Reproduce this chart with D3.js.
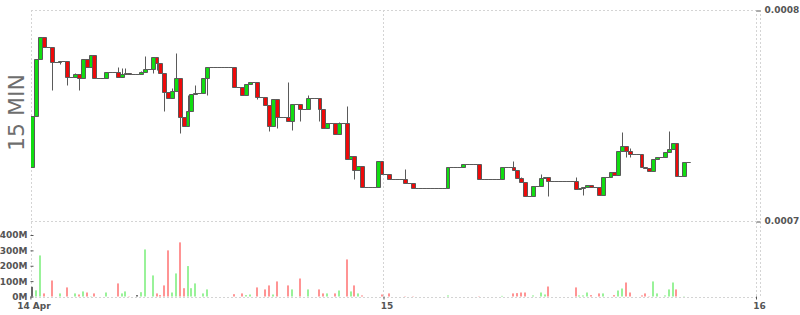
<!DOCTYPE html>
<html><head><meta charset="utf-8">
<script src="https://cdn.jsdelivr.net/npm/d3@7"></script>
<style>body{margin:0;background:#fff;} svg{display:block;}</style>
</head><body>
<svg id="c" width="800" height="315"></svg>
<script>
// ---------- data ----------
const startTime = "2024-04-14T01:15:00Z";   // first 15-min candle
const endTime   = "2024-04-16T00:00:00Z";
const opens = [
0.00072574,0.00074991,0.00077678,0.00078706,0.00078232,0.00078232,0.00077536,0.00077536,0.00077583,0.00077583,
0.00076810,0.00076810,0.00076953,0.00076763,0.00077678,0.00077284,0.00077853,0.00076763,0.00076763,0.00076763,
0.00077047,0.00077047,0.00077047,0.00076810,0.00076967,0.00077000,0.00076986,0.00076986,0.00076986,0.00077047,
0.00077190,0.00077190,0.00077758,0.00077474,0.00077000,0.00076100,0.00075815,0.00076175,0.00076763,0.00074915,
0.00074502,0.00075228,0.00076005,0.00076052,0.00076052,0.00076763,0.00077313,0.00077313,0.00077313,0.00077313,
0.00077313,0.00077313,0.00077313,0.00076365,0.00076365,0.00075972,0.00076479,0.00076573,0.00076573,0.00075863,
0.00075863,0.00075498,0.00074502,0.00075768,0.00074915,0.00074915,0.00074915,0.00074725,0.00075531,0.00075531,
0.00075294,0.00075294,0.00075815,0.00075815,0.00075815,0.00075294,0.00074393,0.00074630,0.00074630,0.00074109,
0.00074630,0.00074630,0.00072938,0.00073095,0.00072417,0.00072621,0.00071597,0.00071597,0.00071597,0.00071597,
0.00072829,0.00072213,0.00072213,0.00071976,0.00071976,0.00071976,0.00071976,0.00071787,0.00071787,0.00071550,
0.00071550,0.00071550,0.00071550,0.00071550,0.00071550,0.00071550,0.00071550,0.00071550,0.00072545,0.00072545,
0.00072545,0.00072545,0.00072687,0.00072687,0.00072687,0.00072687,0.00071976,0.00071976,0.00071976,0.00071976,
0.00071976,0.00071976,0.00072545,0.00072545,0.00072545,0.00072417,0.00072024,0.00071834,0.00071185,0.00071185,
0.00071659,0.00071659,0.00072024,0.00072100,0.00071910,0.00071910,0.00071910,0.00071910,0.00071910,0.00071910,
0.00071910,0.00071502,0.00071550,0.00071597,0.00071706,0.00071597,0.00071597,0.00071218,0.00072071,0.00072071,
0.00072308,0.00072180,0.00073318,0.00073540,0.00073318,0.00073175,0.00073175,0.00073175,0.00072545,0.00072498,
0.00072370,0.00072924,0.00073047,0.00073047,0.00073256,0.00073398,0.00073683,0.00072133,0.00072133,0.00072782
];
const highs = [
0.00074991,0.00077678,0.00078706,0.00078706,0.00078232,0.00078232,0.00077536,0.00077583,0.00077583,0.00077583,
0.00076810,0.00077029,0.00076953,0.00077678,0.00077678,0.00077853,0.00077853,0.00076763,0.00076763,0.00077047,
0.00077047,0.00077047,0.00077299,0.00077265,0.00077265,0.00077000,0.00076986,0.00076986,0.00077109,0.00077820,
0.00077190,0.00077758,0.00077758,0.00077474,0.00077000,0.00076100,0.00076289,0.00077948,0.00076763,0.00074915,
0.00075972,0.00076005,0.00076446,0.00076052,0.00076763,0.00077313,0.00077313,0.00077313,0.00077313,0.00077313,
0.00077313,0.00077313,0.00077313,0.00076365,0.00076365,0.00076479,0.00076573,0.00076573,0.00076573,0.00075863,
0.00075863,0.00075498,0.00075768,0.00075768,0.00074915,0.00074915,0.00076602,0.00075531,0.00075531,0.00075531,
0.00075294,0.00075972,0.00075815,0.00075815,0.00075815,0.00075294,0.00074630,0.00074630,0.00074630,0.00074706,
0.00074630,0.00075465,0.00073095,0.00073095,0.00072621,0.00072621,0.00071597,0.00071597,0.00071597,0.00072829,
0.00072829,0.00072213,0.00072213,0.00071976,0.00071976,0.00071976,0.00072465,0.00071787,0.00071787,0.00071550,
0.00071550,0.00071550,0.00071550,0.00071550,0.00071550,0.00071550,0.00071550,0.00072545,0.00072545,0.00072545,
0.00072545,0.00072687,0.00072687,0.00072687,0.00072687,0.00072687,0.00071976,0.00071976,0.00071976,0.00071976,
0.00071976,0.00072545,0.00072545,0.00072545,0.00072858,0.00072417,0.00072100,0.00071834,0.00071185,0.00071659,
0.00071659,0.00072228,0.00072100,0.00072100,0.00071910,0.00071910,0.00071910,0.00071910,0.00071910,0.00071910,
0.00072100,0.00071550,0.00071597,0.00071706,0.00071706,0.00071597,0.00071597,0.00072071,0.00072071,0.00072308,
0.00072308,0.00073318,0.00074204,0.00073540,0.00073446,0.00073175,0.00073175,0.00073175,0.00072545,0.00072498,
0.00072924,0.00073047,0.00073047,0.00073256,0.00074265,0.00073683,0.00073683,0.00072133,0.00072782,0.00072782
];
const lows = [
0.00072574,0.00074991,0.00077678,0.00078232,0.00078232,0.00076209,0.00077536,0.00077427,0.00077583,0.00076446,
0.00076810,0.00076810,0.00076209,0.00076763,0.00077284,0.00077284,0.00076763,0.00076763,0.00076763,0.00076763,
0.00077047,0.00077047,0.00076810,0.00076810,0.00076967,0.00076986,0.00076986,0.00076986,0.00076986,0.00077047,
0.00077190,0.00077000,0.00077156,0.00077000,0.00075228,0.00075815,0.00075815,0.00076175,0.00074156,0.00074502,
0.00074502,0.00075228,0.00076005,0.00076052,0.00076052,0.00075972,0.00077313,0.00077313,0.00077313,0.00077313,
0.00077313,0.00077313,0.00076365,0.00076365,0.00075972,0.00075972,0.00076479,0.00076573,0.00075768,0.00075863,
0.00075498,0.00074280,0.00074502,0.00074393,0.00074915,0.00074915,0.00074725,0.00074313,0.00075531,0.00074754,
0.00075294,0.00075294,0.00075815,0.00075815,0.00074754,0.00074393,0.00074393,0.00074630,0.00074109,0.00074109,
0.00074630,0.00072938,0.00072938,0.00072005,0.00072417,0.00071597,0.00071597,0.00071597,0.00071597,0.00071597,
0.00072213,0.00072213,0.00071976,0.00071976,0.00071976,0.00071976,0.00071787,0.00071787,0.00071550,0.00071550,
0.00071550,0.00071550,0.00071550,0.00071550,0.00071550,0.00071550,0.00071550,0.00071550,0.00072545,0.00072545,
0.00072545,0.00072545,0.00072687,0.00072687,0.00072687,0.00071976,0.00071976,0.00071976,0.00071976,0.00071976,
0.00071976,0.00071976,0.00072545,0.00072545,0.00072417,0.00072024,0.00071834,0.00071185,0.00071185,0.00071185,
0.00071659,0.00071659,0.00072024,0.00071185,0.00071910,0.00071910,0.00071910,0.00071910,0.00071910,0.00071910,
0.00071502,0.00071502,0.00071247,0.00071597,0.00071597,0.00071597,0.00071218,0.00071218,0.00072071,0.00072071,
0.00072180,0.00072180,0.00073318,0.00073019,0.00073019,0.00073175,0.00073175,0.00072545,0.00072498,0.00072370,
0.00072370,0.00072924,0.00073047,0.00073047,0.00073256,0.00073398,0.00072133,0.00072133,0.00072133,0.00072782
];
const closes = [
0.00074991,0.00077678,0.00078706,0.00078232,0.00078232,0.00077536,0.00077536,0.00077583,0.00077583,0.00076810,
0.00076810,0.00076953,0.00076763,0.00077678,0.00077284,0.00077853,0.00076763,0.00076763,0.00076763,0.00077047,
0.00077047,0.00077047,0.00076810,0.00076967,0.00077000,0.00076986,0.00076986,0.00076986,0.00077047,0.00077190,
0.00077190,0.00077758,0.00077474,0.00077000,0.00076100,0.00075815,0.00076175,0.00076763,0.00074915,0.00074502,
0.00075228,0.00076005,0.00076052,0.00076052,0.00076763,0.00077313,0.00077313,0.00077313,0.00077313,0.00077313,
0.00077313,0.00077313,0.00076365,0.00076365,0.00075972,0.00076479,0.00076573,0.00076573,0.00075863,0.00075863,
0.00075498,0.00074502,0.00075768,0.00074915,0.00074915,0.00074915,0.00074725,0.00075531,0.00075531,0.00075294,
0.00075294,0.00075815,0.00075815,0.00075815,0.00075294,0.00074393,0.00074630,0.00074630,0.00074109,0.00074630,
0.00074630,0.00072938,0.00073095,0.00072417,0.00072621,0.00071597,0.00071597,0.00071597,0.00071597,0.00072829,
0.00072213,0.00072213,0.00071976,0.00071976,0.00071976,0.00071976,0.00071787,0.00071787,0.00071550,0.00071550,
0.00071550,0.00071550,0.00071550,0.00071550,0.00071550,0.00071550,0.00071550,0.00072545,0.00072545,0.00072545,
0.00072545,0.00072687,0.00072687,0.00072687,0.00072687,0.00071976,0.00071976,0.00071976,0.00071976,0.00071976,
0.00071976,0.00072545,0.00072545,0.00072545,0.00072417,0.00072024,0.00071834,0.00071185,0.00071185,0.00071659,
0.00071659,0.00072024,0.00072100,0.00071910,0.00071910,0.00071910,0.00071910,0.00071910,0.00071910,0.00071910,
0.00071502,0.00071550,0.00071597,0.00071706,0.00071597,0.00071597,0.00071218,0.00072071,0.00072071,0.00072308,
0.00072180,0.00073318,0.00073540,0.00073318,0.00073175,0.00073175,0.00073175,0.00072545,0.00072498,0.00072370,
0.00072924,0.00073047,0.00073047,0.00073256,0.00073398,0.00073683,0.00072133,0.00072133,0.00072782,0.00072782
];
// volume in millions
const volumes = [
63,40,267,20,0,104,0,20,0,59,
0,20,13,33,26,2,20,0,0,26,
0,0,85,20,33,2,0,9,28,306,
0,137,20,9,72,300,26,150,352,54,
198,54,85,0,20,46,0,0,0,0,
0,0,15,0,20,9,13,0,59,0,
46,72,13,98,0,0,72,46,0,117,
0,46,0,0,46,20,20,0,20,39,
0,241,33,72,20,7,0,0,0,0,
13,0,20,0,0,0,2,0,2,0,
0,0,0,0,0,0,0,7,0,0,
0,0,0,0,0,2,0,0,0,0,
0,4,0,0,20,22,26,26,0,7,
0,26,13,65,0,0,0,0,0,0,
59,7,7,26,9,0,20,20,0,0,
9,39,52,91,26,0,0,7,20,2,
98,20,0,7,46,91,46,0,2,0
];
const priceTicks = [0.0007, 0.0008];
const priceTickLabels = ["0.0007", "0.0008"];
const volumeTicks = [0, 100, 200, 300, 400];
const volumeTickLabels = ["0M", "100M", "200M", "300M", "400M"];
const timeTicks = ["2024-04-14T01:15:00Z", "2024-04-15T00:00:00Z", "2024-04-16T00:00:00Z"];
const timeTickLabels = ["14 Apr", "15", "16"];
const paneLabel = "15 MIN";

// ---------- drawing ----------
const svg = d3.select("#c");
const t0 = d3.isoParse(startTime), t1 = d3.isoParse(endTime);
const times = opens.map((_, i) => d3.utcMinute.offset(t0, 15 * i));

const x = d3.scaleUtc().domain([t0, t1]).range([30.4, 756]);
const y = d3.scaleLinear().domain([0.0007, 0.0008]).range([221, 10]);
const yv = d3.scaleLinear().domain([0, 400]).range([296.5, 235]);

const LEFT = 31, RIGHT = 756;
const gridColor = "#d4d4d4";
const textColor = "#555";
const font = "DejaVu Sans, sans-serif";

// grid
const grid = svg.append("g").attr("stroke", gridColor).attr("stroke-dasharray", "2,2").attr("fill", "none");
[y(0.0008), y(0.0007)].forEach(v => grid.append("line")
  .attr("x1", LEFT).attr("x2", RIGHT).attr("y1", Math.round(v) + 0.5).attr("y2", Math.round(v) + 0.5));
grid.append("line").attr("x1", LEFT).attr("x2", RIGHT)
  .attr("y1", Math.round(yv(0)) + 0.5).attr("y2", Math.round(yv(0)) + 0.5);
[LEFT, x(d3.isoParse(timeTicks[1])), x(d3.isoParse(timeTicks[2])), 760].forEach(v => grid.append("line")
  .attr("x1", Math.round(v) + 0.5).attr("x2", Math.round(v) + 0.5).attr("y1", 10).attr("y2", 297));

// clip
svg.append("clipPath").attr("id", "clip").append("rect")
  .attr("x", LEFT).attr("y", 0).attr("width", RIGHT - LEFT).attr("height", 300);

const px = v => Math.round(v) + 0.5;

// volume bars
const vg = svg.append("g").attr("clip-path", "url(#clip)");
volumes.forEach((v, i) => {
  if (!v) return;
  const cx = (x(times[i]) + x(d3.utcMinute.offset(times[i], 15))) / 2;
  let col = "#666";
  if (i > 0 && closes[i] > closes[i - 1]) col = "#99f299";
  else if (i > 0 && closes[i] < closes[i - 1]) col = "#ff9494";
  const top = yv(v), base = yv(0);
  vg.append("rect").attr("x", Math.round(cx) - 1).attr("width", 2)
    .attr("y", top).attr("height", base - top).attr("fill", col);
});

// candles
const cg = svg.append("g").attr("clip-path", "url(#clip)");
times.forEach((t, i) => {
  const xa = px(x(t)), xb = px(x(d3.utcMinute.offset(t, 15)));
  const cx = px((x(t) + x(d3.utcMinute.offset(t, 15))) / 2);
  const yh = px(y(highs[i])), yl = px(y(lows[i]));
  const yo = px(y(opens[i])), yc = px(y(closes[i]));
  if (yl > yh) cg.append("line").attr("x1", cx).attr("x2", cx).attr("y1", yh).attr("y2", yl)
    .attr("stroke", "#5a5a5a").attr("stroke-width", 1);
  const fill = closes[i] > opens[i] ? "#11dd11" : (closes[i] < opens[i] ? "#ee0a0a" : "none");
  cg.append("path").attr("d", `M${xa},${yo}H${xb}V${yc}H${xa}Z`)
    .attr("fill", fill).attr("stroke", "#5a5a5a").attr("stroke-width", 1);
});

// price axis (right)
const pa = svg.append("g").attr("transform", "translate(756.5,0)")
  .call(d3.axisRight(y).tickValues(priceTicks).tickFormat((d, i) => priceTickLabels[i]).tickSize(4).tickPadding(4));
pa.select(".domain").remove();
pa.selectAll("line").attr("stroke", textColor).attr("transform", "translate(0,0.5)");
pa.selectAll("text").attr("fill", textColor).attr("font-family", font).attr("font-size", 9).attr("font-weight", "bold");

// volume axis (left)
const va = svg.append("g").attr("transform", "translate(30.5,0)")
  .call(d3.axisLeft(yv).tickValues(volumeTicks).tickFormat((d, i) => volumeTickLabels[i]).tickSize(-3).tickPadding(3));
va.select(".domain").remove();
va.selectAll("line").attr("stroke", textColor);
va.selectAll("text").attr("fill", textColor).attr("font-family", font).attr("font-size", 9).attr("font-weight", "bold");

// time axis (bottom)
const ta = svg.append("g").attr("transform", "translate(0,296.5)")
  .call(d3.axisBottom(x).tickValues(timeTicks.map(d => d3.isoParse(d))).tickFormat((d, i) => timeTickLabels[i]).tickSize(3).tickPadding(3));
ta.select(".domain").remove();
ta.selectAll("line").attr("stroke", textColor);
ta.selectAll("text").attr("fill", textColor).attr("font-family", font).attr("font-size", 9)
  .attr("font-weight", "bold").attr("dx", 3);

// pane label
svg.append("text").attr("transform", "translate(24,112.5) rotate(-90)")
  .attr("text-anchor", "middle").attr("font-family", font).attr("font-size", 22)
  .attr("fill", "#6e6e6e").text(paneLabel);
</script>
</body></html>
